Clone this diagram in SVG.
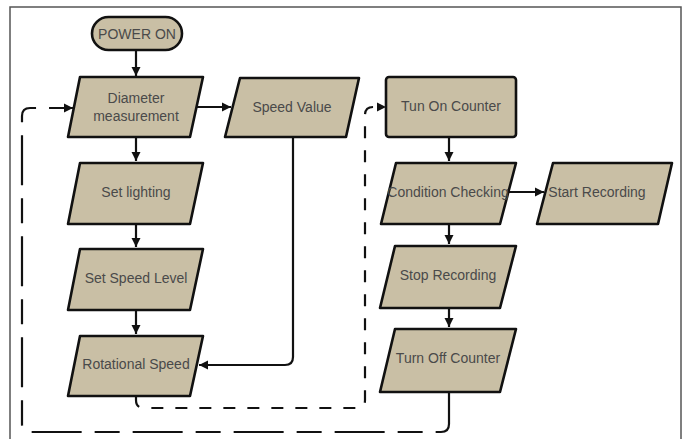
<svg xmlns="http://www.w3.org/2000/svg" width="686" height="439" viewBox="0 0 686 439">
  <style>
    .shape { fill: #C9BFA5; stroke: #111; stroke-width: 2.6; stroke-linejoin: round; }
    .lbl { font-family: "Liberation Sans", Arial, sans-serif; font-size: 14px; fill: #4a4a4a; text-anchor: middle; dominant-baseline: central; }
    .conn { fill: none; stroke: #111; stroke-width: 2.2; stroke-linecap: butt; stroke-linejoin: round; }
    .longdash { stroke-dasharray: 50 13 25 13; }
    .shortdash { stroke-dasharray: 12 12; }
  </style>
  <defs>
    <marker id="arr" viewBox="0 0 10 10" refX="10" refY="5" markerWidth="4.2" markerHeight="4.2" markerUnits="strokeWidth" orient="auto">
      <path d="M0,0 L10,5 L0,10 Z" fill="#111"/>
    </marker>
  </defs>
  <rect x="0" y="0" width="686" height="439" fill="#fff"/>
  <rect x="10" y="7" width="671" height="445" fill="none" stroke="#555" stroke-width="1.5"/>

  <g id="connectors">
    <path class="conn" d="M136,50 L136,76" marker-end="url(#arr)"/>
    <path class="conn" d="M136,137 L136,161" marker-end="url(#arr)"/>
    <path class="conn" d="M136,224 L136,247" marker-end="url(#arr)"/>
    <path class="conn" d="M136,310 L136,334" marker-end="url(#arr)"/>
    <path class="conn" d="M197,107 L231,107" marker-end="url(#arr)"/>
    <path class="conn" d="M293,137 L293,357 Q293,365 285,365 L199,365" marker-end="url(#arr)"/>
    <path class="conn" d="M449,137 L449,161" marker-end="url(#arr)"/>
    <path class="conn" d="M508,192 L544,192" marker-end="url(#arr)"/>
    <path class="conn" d="M449,224 L449,244" marker-end="url(#arr)"/>
    <path class="conn" d="M449,308 L449,327" marker-end="url(#arr)"/>
    <path class="conn shortdash" d="M136,396 L136,400 Q136,408 144,408 L357,408 Q365,408 365,400 L365,115 Q365,107 373,107 L386,107" marker-end="url(#arr)"/>
    <path class="conn longdash" d="M449,392 L449,424 Q449,432 441,432 L30,432 Q22,432 22,424 L22,116 Q22,108 30,108 L73,108" marker-end="url(#arr)"/>
  </g>

  <g id="power-on">
    <rect class="shape" x="92" y="17" width="90" height="33" rx="16.5"/>
    <text class="lbl" x="137" y="33.5">POWER ON</text>
  </g>
  <g id="diameter">
    <polygon class="shape" points="80,77 203,77 190,137 68,137"/>
    <text class="lbl" x="136" y="98">Diameter</text>
    <text class="lbl" x="136" y="116">measurement</text>
  </g>
  <g id="speed-value">
    <polygon class="shape" points="240,78 359,78 346,137 225,137"/>
    <text class="lbl" x="292" y="107">Speed Value</text>
  </g>
  <g id="set-lighting">
    <polygon class="shape" points="80,163 203,163 190,224 68,224"/>
    <text class="lbl" x="136" y="192">Set lighting</text>
  </g>
  <g id="set-speed-level">
    <polygon class="shape" points="80,249 203,249 190,310 68,310"/>
    <text class="lbl" x="136" y="278">Set Speed Level</text>
  </g>
  <g id="rotational-speed">
    <polygon class="shape" points="80,336 203,336 190,396 68,396"/>
    <text class="lbl" x="136" y="364">Rotational Speed</text>
  </g>
  <g id="tun-on-counter">
    <rect class="shape" x="386" y="77" width="130" height="60" rx="3"/>
    <text class="lbl" x="451" y="106">Tun On Counter</text>
  </g>
  <g id="condition-checking">
    <polygon class="shape" points="396,163 516,163 500,224 381,224"/>
    <text class="lbl" x="448" y="192">Condition Checking</text>
  </g>
  <g id="start-recording">
    <polygon class="shape" points="553,163 672,163 658,224 537,224"/>
    <text class="lbl" x="597" y="192">Start Recording</text>
  </g>
  <g id="stop-recording">
    <polygon class="shape" points="395,246 516,246 500,308 380,308"/>
    <text class="lbl" x="448" y="275">Stop Recording</text>
  </g>
  <g id="turn-off-counter">
    <polygon class="shape" points="395,329 516,329 500,392 380,392"/>
    <text class="lbl" x="448" y="358">Turn Off Counter</text>
  </g>
</svg>
